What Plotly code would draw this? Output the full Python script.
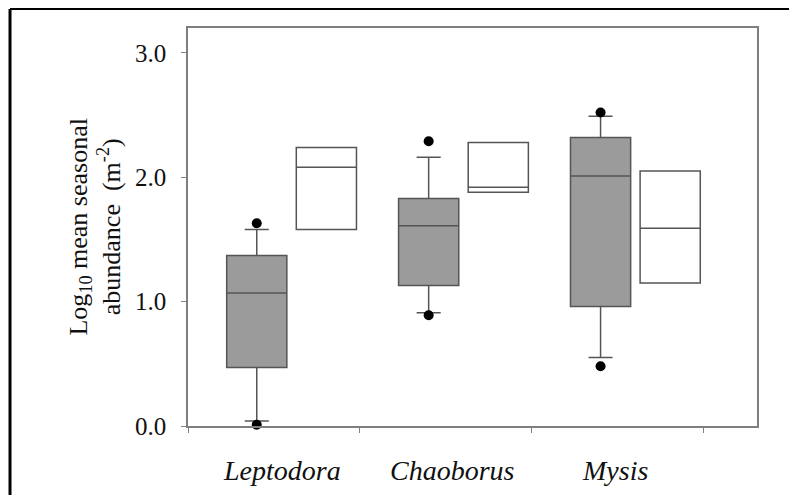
import plotly.graph_objects as go

# ---- data ----
categories = ["Leptodora", "Chaoborus", "Mysis"]

# grey boxes (full box plots)
grey_q1 = [0.47, 1.13, 0.96]
grey_median = [1.07, 1.61, 2.01]
grey_q3 = [1.37, 1.83, 2.32]
grey_lowerfence = [0.04, 0.91, 0.55]
grey_upperfence = [1.58, 2.16, 2.49]
grey_outlier_low = [0.01, 0.89, 0.48]
grey_outlier_high = [1.63, 2.29, 2.52]

# white boxes (box only)
white_q1 = [1.58, 1.88, 1.15]
white_median = [2.08, 1.92, 1.59]
white_q3 = [2.24, 2.28, 2.05]

y_ticks = [0.0, 1.0, 2.0, 3.0]

# ---- layout constants ----
GREY_OFFSET = 0.40
WHITE_OFFSET = 0.805
BOX_W = 0.35
label_x = [0.547, 1.541, 2.483]

FONT = "Liberation Serif"
LINE = "#555555"
FRAME = "#7f7f7f"

n = len(categories)
grey_x = [i + GREY_OFFSET for i in range(n)]
white_x = [i + WHITE_OFFSET for i in range(n)]

fig = go.Figure()

fig.add_trace(go.Box(
    x=grey_x, q1=grey_q1, median=grey_median, q3=grey_q3,
    lowerfence=grey_lowerfence, upperfence=grey_upperfence,
    width=BOX_W, whiskerwidth=0.4, boxpoints=False,
    fillcolor="#9b9b9b", line=dict(color=LINE, width=1.5),
    showlegend=False, hoverinfo="skip",
))

fig.add_trace(go.Box(
    x=white_x, q1=white_q1, median=white_median, q3=white_q3,
    lowerfence=white_q1, upperfence=white_q3,
    width=BOX_W, whiskerwidth=0, boxpoints=False,
    fillcolor="white", line=dict(color=LINE, width=1.5),
    showlegend=False, hoverinfo="skip",
))

fig.add_trace(go.Scatter(
    x=grey_x + grey_x, y=grey_outlier_low + grey_outlier_high,
    mode="markers", marker=dict(color="black", size=10, symbol="circle"),
    showlegend=False, hoverinfo="skip", cliponaxis=False,
))

annotations = []
for i, name in enumerate(categories):
    annotations.append(dict(
        x=label_x[i], y=0, xref="x", yref="paper", yanchor="middle",
        yshift=-44, text=f"<i>{name}</i>", showarrow=False,
        font=dict(family=FONT, size=28, color="#111111"),
    ))

annotations.append(dict(
    x=-0.1643, y=0.5, xref="paper", yref="paper",
    xanchor="center", yanchor="middle", textangle=-90,
    text="Log<sub>10</sub> mean seasonal<br>abundance\u00a0\u00a0(m<sup>-2</sup>)",
    showarrow=False, font=dict(family=FONT, size=26, color="#111111"),
))

fig.update_layout(
    width=789, height=487,
    margin=dict(l=180, r=40, t=20, b=69),
    paper_bgcolor="white", plot_bgcolor="white",
    boxmode="overlay",
    annotations=annotations,
    shapes=[
        dict(type="line", xref="paper", yref="paper",
             x0=-0.3128, x1=-0.3128, y0=-0.2, y1=1.0477,
             line=dict(color="black", width=3), layer="above"),
        dict(type="line", xref="paper", yref="paper",
             x0=-0.3128, x1=1.07, y0=1.0477, y1=1.0477,
             line=dict(color="black", width=2), layer="above"),
    ],
)

fig.update_xaxes(
    range=[0, 3.31], tickvals=[0, 1, 2, 3], showticklabels=False,
    ticks="outside", ticklen=5, tickcolor=FRAME,
    showline=True, linecolor=FRAME, linewidth=1.5, mirror=True,
    showgrid=False, zeroline=False,
)

fig.update_yaxes(
    range=[0, 3.2], tickvals=y_ticks, tickformat=".1f",
    ticks="outside", ticklen=5, tickcolor=FRAME,
    tickfont=dict(family=FONT, size=25, color="#111111"),
    ticklabelstandoff=10,
    showline=True, linecolor=FRAME, linewidth=1.5, mirror=True,
    showgrid=False, zeroline=False,
)

fig.write_html("out.html")
